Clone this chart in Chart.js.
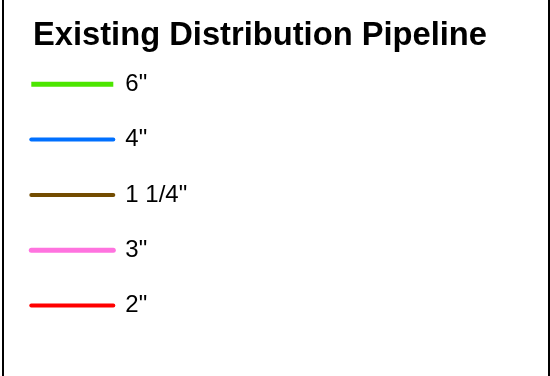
<!DOCTYPE html>
<html>
<head>
<meta charset="utf-8">
<script src="https://cdn.jsdelivr.net/npm/chart.js@4.4.0/dist/chart.umd.min.js"></script>
<style>
  body { margin: 0; background: #fff; }
  #frame { position: absolute; left: 2px; top: 0; width: 548px; height: 376px;
           box-sizing: border-box; border-left: 2px solid #000; border-right: 2px solid #000; }
  #chart { position: absolute; left: 0; top: 0; }
</style>
</head>
<body>
<div id="frame"></div>
<canvas id="chart" width="550" height="376"></canvas>
<script>
// Legend entries (pipe sizes)
const pipeSizes = ['6"', '4"', '1 1/4"', '3"', '2"'];
const pipeColors = ['#4ce600', '#0070ff', '#734c00', '#ff73df', '#ff0000'];
const pipeWidths = [5, 4, 4, 5, 4];
const pipeCaps = ['butt', 'round', 'round', 'round', 'round'];

const ctx = document.getElementById('chart');

new Chart(ctx, {
  type: 'line',
  data: {
    labels: [],
    datasets: pipeSizes.map((s, i) => ({
      label: s,
      data: [],
      borderColor: pipeColors[i],
      borderWidth: pipeWidths[i],
      borderCapStyle: pipeCaps[i]
    }))
  },
  options: {
    responsive: false,
    animation: false,
    layout: { padding: { right: 30 } },
    scales: { x: { display: false }, y: { display: false } },
    plugins: {
      tooltip: { enabled: false },
      title: {
        display: true,
        text: 'Existing Distribution Pipeline',
        color: '#000',
        align: 'center',
        font: { family: '"Liberation Sans", Arial, sans-serif', size: 32.7, weight: 'bold', lineHeight: '15px' },
        padding: { top: 28, bottom: -2 }
      },
      legend: {
        display: true,
        position: 'left',
        align: 'start',
        fullSize: false,
        labels: {
          color: '#000',
          padding: 31.3,
          usePointStyle: true,
          pointStyleWidth: 82,
          font: { family: '"Liberation Sans", Arial, sans-serif', size: 24 },
          generateLabels: (chart) => chart.data.datasets.map((ds, i) => ({
            text: ds.label,
            strokeStyle: ds.borderColor,
            fillStyle: ds.borderColor,
            lineWidth: ds.borderWidth,
            lineCap: ds.borderCapStyle,
            pointStyle: 'line',
            fontColor: '#000',
            hidden: false,
            datasetIndex: i
          }))
        }
      }
    }
  }
});
</script>
</body>
</html>
